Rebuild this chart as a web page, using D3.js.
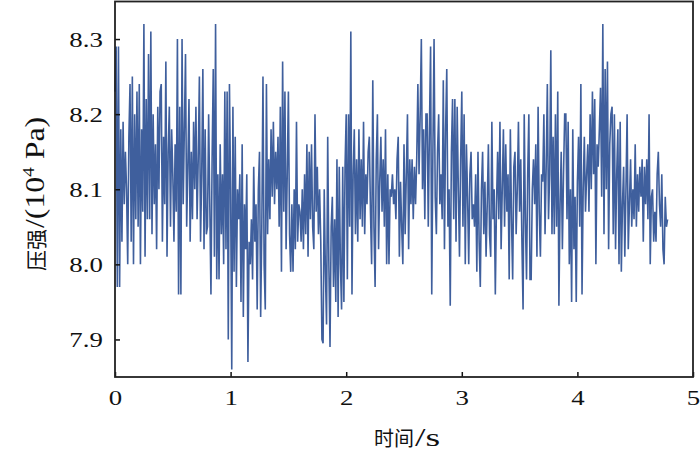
<!DOCTYPE html>
<html>
<head>
<meta charset="utf-8">
<script src="https://cdn.jsdelivr.net/npm/d3@7"></script>
<style>
  html, body { margin: 0; padding: 0; background: #fff; }
  svg { display: block; }
</style>
</head>
<body>
<svg id="chart" width="700" height="455"></svg>
<script>
// ---- data ----
const timeStep = 0.01;            // s between samples
const pressure = [
  8.23, 8.29, 7.97, 8.29, 7.97, 8.18, 8.03, 8.19, 8.08, 8.15,
  8.10, 8.00, 8.17, 8.24, 8.03, 8.25, 8.00, 8.20, 8.06, 8.23,
  8.05, 8.24, 8.00, 8.18, 8.07, 8.32, 8.01, 8.22, 8.06, 8.28,
  8.06, 8.31, 8.04, 8.20, 8.08, 8.16, 8.02, 8.21, 8.10, 8.23,
  8.24, 8.03, 8.17, 8.08, 8.27, 8.01, 8.15, 8.21, 8.05, 8.18,
  8.12, 8.03, 8.16, 8.07, 8.30, 7.96, 8.21, 7.96, 8.30, 8.08,
  8.18, 8.28, 8.05, 8.13, 8.22, 8.03, 8.15, 8.06, 8.19, 8.10,
  8.21, 8.06, 8.14, 8.25, 8.03, 8.12, 8.26, 8.02, 8.18, 8.04,
  8.05, 8.20, 8.08, 7.96, 8.14, 8.26, 8.01, 8.32, 7.98, 8.12,
  7.98, 8.16, 8.04, 8.12, 8.00, 8.23, 8.02, 8.23, 7.90, 8.24,
  8.10, 7.86, 8.21, 7.99, 8.17, 7.97, 8.10, 8.06, 8.12, 7.95,
  8.16, 7.93, 8.08, 8.02, 8.12, 7.87, 8.03, 8.00, 8.06, 7.98,
  8.13, 8.03, 8.08, 7.94, 8.10, 8.15, 7.93, 8.05, 8.25, 8.00,
  7.94, 8.24, 8.04, 8.14, 8.06, 8.18, 8.09, 8.19, 8.08, 8.15,
  8.10, 8.17, 8.05, 8.21, 7.99, 8.27, 8.07, 8.23, 8.02, 8.12,
  8.23, 8.04, 7.99, 8.08, 7.99, 8.10, 8.02, 8.19, 8.03, 8.08,
  8.07, 8.03, 8.10, 8.02, 8.12, 8.04, 8.16, 8.01, 8.15, 8.06,
  8.16, 8.05, 8.02, 8.20, 8.07, 8.13, 8.04, 8.10, 8.03, 7.90,
  7.895, 8.10, 7.99, 7.92, 8.17, 8.00, 7.89, 8.05, 8.09, 7.97,
  8.06, 7.95, 8.14, 7.93, 8.13, 8.00, 7.94, 8.13, 7.95, 8.13,
  8.20, 7.98, 8.20, 8.05, 8.31, 7.96, 8.12, 8.18, 8.04, 8.14,
  8.03, 8.18, 8.06, 8.14, 8.05, 8.19, 8.04, 8.12, 8.08, 8.15,
  8.17, 8.07, 8.00, 8.245, 8.05, 7.97, 8.14, 8.20, 8.02, 8.11,
  8.17, 8.07, 8.14, 8.05, 8.18, 8.00, 8.12, 8.00, 8.10, 8.09,
  8.12, 8.08, 8.10, 8.06, 8.14, 8.17, 8.01, 8.11, 8.05, 8.00,
  8.16, 8.04, 8.12, 8.20, 8.02, 8.14, 8.08, 8.14, 8.06, 8.13,
  8.08, 8.14, 8.24, 8.12, 8.20, 8.30, 8.10, 8.18, 8.06, 8.20,
  8.20, 8.05, 8.18, 8.29, 7.96, 8.15, 8.30, 8.09, 8.04, 8.15,
  8.20, 8.08, 8.12, 8.06, 8.245, 8.02, 8.18, 8.26, 8.05, 8.10,
  7.945, 8.15, 8.22, 8.06, 8.22, 8.03, 8.21, 8.10, 8.01, 8.14,
  8.23, 8.05, 8.20, 8.00, 8.16, 8.09, 8.00, 8.12, 8.15, 8.06,
  8.08, 8.05, 8.12, 7.99, 8.15, 8.03, 7.97, 8.10, 8.15, 8.04,
  8.11, 8.01, 8.08, 8.16, 8.04, 8.01, 8.19, 8.06, 8.10, 7.96,
  8.08, 8.15, 8.06, 8.19, 8.02, 8.10, 8.18, 8.05, 8.16, 8.07,
  8.12, 7.98, 8.18, 8.06, 7.98, 8.13, 8.15, 8.04, 8.10, 8.19,
  8.07, 8.14, 8.03, 7.94, 8.20, 8.06, 7.98, 8.12, 8.20, 7.98,
  7.98, 8.10, 8.14, 8.08, 8.16, 8.01, 8.21, 8.07, 8.01, 8.12,
  8.11, 8.20, 8.04, 8.13, 8.24, 8.06, 8.12, 8.285, 8.04, 8.17,
  8.04, 8.20, 8.05, 8.23, 7.945, 8.08, 8.15, 8.02, 8.12, 8.20,
  8.20, 8.06, 8.19, 8.00, 8.10, 7.95, 8.18, 8.02, 8.09, 7.95,
  8.11, 8.17, 8.05, 8.24, 7.96, 8.10, 8.17, 8.07, 8.12, 8.16,
  8.07, 8.20, 8.10, 8.23, 8.12, 8.22, 8.00, 8.16, 8.13, 8.18,
  8.235, 8.09, 8.32, 8.04, 8.26, 8.10, 8.27, 8.02, 8.16, 8.20,
  8.21, 8.04, 8.20, 8.02, 8.12, 8.18, 8.00, 8.19, 7.99, 8.08,
  8.13, 8.01, 8.10, 8.20, 8.02, 8.08, 8.14, 8.05, 8.10, 8.06,
  8.16, 8.05, 8.12, 8.07, 8.13, 8.09, 8.14, 8.03, 8.13, 8.08,
  8.14, 8.06, 8.20, 8.00, 8.09, 8.10, 8.03, 8.07, 8.03, 8.12,
  8.15, 8.08, 8.05, 8.12, 8.02, 8.00, 8.09, 8.05, 8.06
];
const xTicks = [0, 1, 2, 3, 4, 5];
const yTicks = [7.9, 8.0, 8.1, 8.2, 8.3];
const xDomain = [0, 5];
const yDomain = [7.85, 8.35];
const xLabelCjk = "时间";
const xLabelUnit = "/s";
const yLabelCjk = "压强";
const yLabelMain = "/(10";
const yLabelSup = "4";
const yLabelTail = " Pa)";

// ---- layout ----
const margin = { left: 115, right: 7, top: 1.5, bottom: 78 };
const W = 700, H = 455;
const svg = d3.select("#chart");
const x = d3.scaleLinear().domain(xDomain).range([margin.left, W - margin.right]);
const y = d3.scaleLinear().domain(yDomain).range([H - margin.bottom, margin.top]);

const data = pressure.map((v, i) => ({ t: i * timeStep, v }));

const serif = "Liberation Serif";
const cjk = "Noto Sans CJK SC";

// line
svg.append("path")
  .datum(data)
  .attr("fill", "none")
  .attr("stroke", "#3f5f9d")
  .attr("stroke-width", 1.6)
  .attr("stroke-linejoin", "miter")
  .attr("d", d3.line().x(d => x(d.t)).y(d => y(d.v)));

// axes (ticks inward)
const xAxis = d3.axisBottom(x).tickValues(xTicks).tickSizeInner(-5).tickSizeOuter(0).tickPadding(12)
  .tickFormat(d3.format("d"));
const yAxis = d3.axisLeft(y).tickValues(yTicks).tickSizeInner(-5).tickSizeOuter(0).tickPadding(10)
  .tickFormat(d3.format(".1f"));

const gx = svg.append("g").attr("transform", `translate(0,${y.range()[0]})`).call(xAxis);
const gy = svg.append("g").attr("transform", `translate(${x.range()[0]},0)`).call(yAxis);
[gx, gy].forEach(g => {
  g.select(".domain").remove();
  g.selectAll(".tick line").attr("stroke", "#111").attr("stroke-width", 1.5);
  g.selectAll(".tick text")
    .attr("fill", "#111")
    .attr("transform", "scale(1.22,1)")
    .attr("font-family", serif).attr("font-size", 22);
});

// frame
svg.append("rect")
  .attr("x", x.range()[0]).attr("y", y.range()[1])
  .attr("width", x.range()[1] - x.range()[0])
  .attr("height", y.range()[0] - y.range()[1])
  .attr("fill", "none").attr("stroke", "#222").attr("stroke-width", 1.8);

// x label: CJK part + stretched serif unit
svg.append("text")
  .attr("x", 414).attr("y", 446)
  .attr("text-anchor", "end")
  .attr("fill", "#111")
  .attr("font-family", cjk).attr("font-size", 20)
  .text(xLabelCjk);
svg.append("text")
  .attr("transform", "translate(415,446) scale(1.45,1)")
  .attr("fill", "#111")
  .attr("font-family", serif).attr("font-size", 26)
  .text(xLabelUnit);

// y label (rotated): CJK part + stretched serif unit
const yg = svg.append("g").attr("transform", "translate(44,271) rotate(-90)");
yg.append("text")
  .attr("x", 0).attr("y", 0)
  .attr("fill", "#111")
  .attr("font-family", cjk).attr("font-size", 21)
  .text(yLabelCjk);
const yt = yg.append("text")
  .attr("transform", "translate(43,0) scale(1.18,1)")
  .attr("fill", "#111")
  .attr("font-family", serif).attr("font-size", 27);
yt.append("tspan").text(yLabelMain);
yt.append("tspan").attr("dy", -10).attr("font-size", 16).text(yLabelSup);
yt.append("tspan").attr("dy", 10).text(yLabelTail);
</script>
</body>
</html>
